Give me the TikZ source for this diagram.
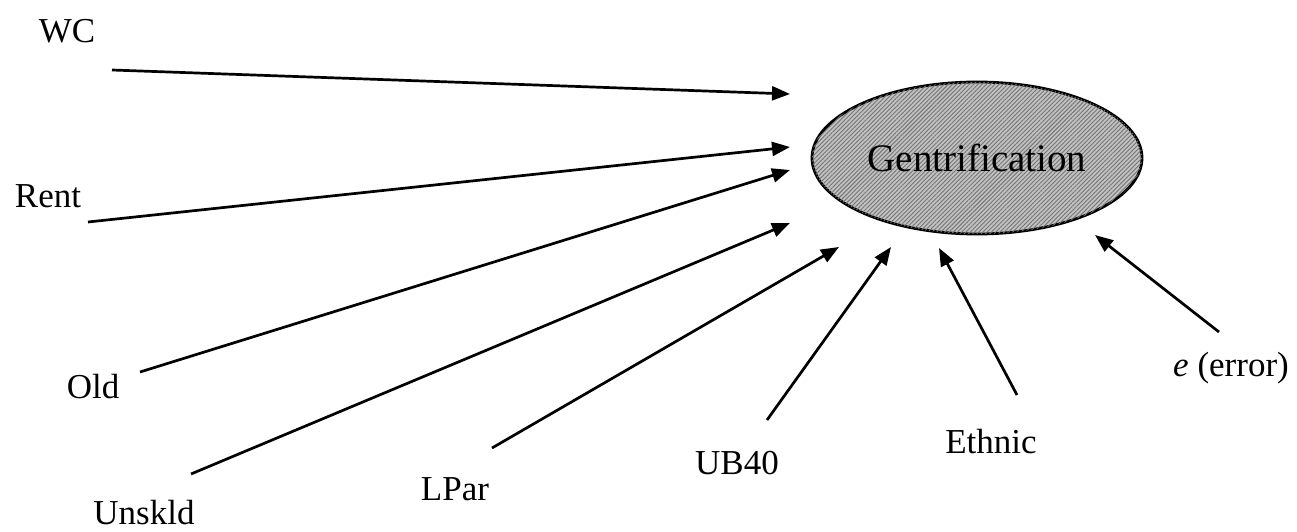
\documentclass[tikz,border=0pt]{standalone}
\usepackage{fontspec}
\setmainfont{Liberation Serif}
\usetikzlibrary{arrows.meta,shapes.geometric,patterns.meta}

\tikzset{
  varlabel/.style={inner sep=0pt, anchor=base, font=\fontsize{35}{40}\selectfont},
  latent/.style={draw=black, line width=2.8pt, fill=black!24,
    postaction={pattern={Lines[angle=45,distance=3pt,line width=0.9pt]},
                pattern color=black!55},
    ellipse, minimum width=330pt, minimum height=152pt, inner sep=0pt},
  effect/.style={line width=2.7pt, -{Triangle[length=18pt,width=14pt]}}
}

\begin{document}
\begin{tikzpicture}[x=1pt, y=-1pt]
  \useasboundingbox (0,0) rectangle (1297,532);

  % outcome variable
  \node[latent] (gen) at (977,158) {};
  \node[inner sep=0pt, font=\fontsize{39}{46}\selectfont] (gentext) at (gen.center) {Gentrification};

  % predictor labels
  \node[varlabel] (wc)     at (67,43)    {WC};
  \node[varlabel] (rent)   at (48,207)   {Rent};
  \node[varlabel] (old)    at (93,398)   {Old};
  \node[varlabel] (unskld) at (144,524)  {Unskld};
  \node[varlabel] (lpar)   at (455,500)  {LPar};
  \node[varlabel] (ub)     at (737,474)  {UB40};
  \node[varlabel] (eth)    at (991,453)  {Ethnic};
  \node[varlabel] (err)    at (1231,376) {\textit{e} (error)};

  % start points of the paths
  \coordinate (wc-s)     at (112,70);
  \coordinate (rent-s)   at (88,222);
  \coordinate (old-s)    at (140,372);
  \coordinate (unskld-s) at (191,474);
  \coordinate (lpar-s)   at (492,448);
  \coordinate (ub-s)     at (767,420);
  \coordinate (eth-s)    at (1017,395);
  \coordinate (err-s)    at (1219,332);

  % arrow tips near the ellipse
  \coordinate (wc-t)     at (790,94);
  \coordinate (rent-t)   at (790,147);
  \coordinate (old-t)    at (790,170);
  \coordinate (unskld-t) at (790,223);
  \coordinate (lpar-t)   at (839,247);
  \coordinate (ub-t)     at (891,247);
  \coordinate (eth-t)    at (939,248);
  \coordinate (err-t)    at (1095,235);

  \foreach \v in {wc,rent,old,unskld,lpar,ub,eth,err}
    \draw[effect] (\v-s) -- (\v-t);
\end{tikzpicture}
\end{document}
